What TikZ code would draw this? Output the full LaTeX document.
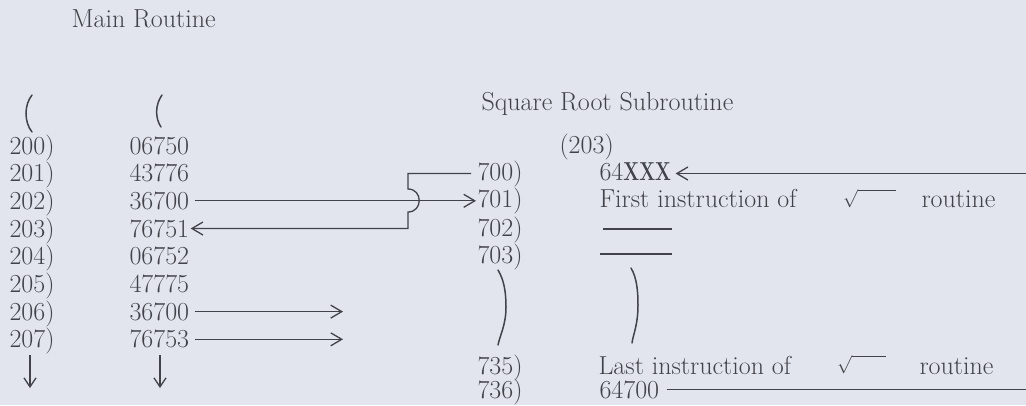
\RequirePackage{fix-cm}
\documentclass[tikz,border=0pt]{standalone}
\usetikzlibrary{arrows.meta}
\definecolor{paper}{RGB}{226,229,237}
\definecolor{ink}{RGB}{66,66,74}
\begin{document}
\begin{tikzpicture}[x=1pt,y=-1pt,
  txt/.style={anchor=base west, inner sep=1.5pt, outer sep=0pt, text=ink, font=\fontsize{26}{30}\selectfont},
  rad/.style={anchor=north west, inner sep=0pt, outer sep=0pt, text=ink, font=\fontsize{18}{20}\selectfont},
  ln/.style={draw=ink, line width=1.3pt},
  arr/.style={ln, -{Straight Barb[length=11pt,width=13pt,line width=1.3pt]}},
  darr/.style={ln, -{Straight Barb[length=9pt,width=12pt,line width=1.3pt]}},
  brk/.style={draw=ink, line width=1.5pt, line cap=round}]
\useasboundingbox (0,0) rectangle (1026,405);
\fill[paper] (0,0) rectangle (1026,405);

% titles
\node[txt] (title) at (70,27) {Main Routine};
\node[txt] (sqtitle) at (480,110) {Square Root Subroutine};
\node[txt] (ret) at (558,153) {(203)};

% main routine
\node[txt] (l200) at (8,154) {200)};   \node[txt] (v200) at (128,154) {06750};
\node[txt] (l201) at (8,181.7) {201)}; \node[txt] (v201) at (128,181.7) {43776};
\node[txt] (l202) at (8,209.4) {202)}; \node[txt] (v202) at (128,209.4) {36700};
\node[txt] (l203) at (8,237.1) {203)}; \node[txt] (v203) at (128,237.1) {76751};
\node[txt] (l204) at (8,264.8) {204)}; \node[txt] (v204) at (128,264.8) {06752};
\node[txt] (l205) at (8,292.5) {205)}; \node[txt] (v205) at (128,292.5) {47775};
\node[txt] (l206) at (8,320.2) {206)}; \node[txt] (v206) at (128,320.2) {36700};
\node[txt] (l207) at (8,347.9) {207)}; \node[txt] (v207) at (128,347.9) {76753};

% subroutine
\node[txt] (r700) at (476,180) {700)};   \node[txt] (vx0) at (598,180) {64\textbf{\scalebox{0.72}[1]{XXX}}};
\node[txt] (r701) at (476,207.5) {701)}; \node[txt] (vfirst) at (598,207.5) {First instruction of};
\node[rad] (sq1) at (843,189) {$\sqrt{\hspace{38pt}}$};
\node[txt] (rt1) at (920,207.5) {routine};
\node[txt] (r702) at (476,236) {702)};
\node[txt] (r703) at (476,263) {703)};
\node[txt] (r735) at (476,374) {735)};   \node[txt] (vlast) at (597,374) {Last instruction of};
\node[rad] (sq2) at (837,355) {$\sqrt{\hspace{34pt}}$};
\node[txt] (rt2) at (918,374) {routine};
\node[txt] (r736) at (476,398) {736)};   \node[txt] (v736) at (598,398) {64700};

% blank instruction lines
\coordinate (b1a) at (603,229); \coordinate (b1b) at (672,229);
\coordinate (b2a) at (600,254); \coordinate (b2b) at (672,254);
\draw[ln] (b1a) -- (b1b);
\draw[ln] (b2a) -- (b2b);

% continuation marks
\draw[brk] (32,95) .. controls (24,105) and (24,122) .. (32,132);
\draw[brk] (162,95) .. controls (155,105) and (155,118) .. (161,127);
\draw[brk] (498,270) .. controls (504,280) and (506,292) .. (506,307) .. controls (506,325) and (500,335) .. (498,345);
\draw[brk] (631,268) .. controls (637,278) and (638,292) .. (638,305) .. controls (638,325) and (633,335) .. (632,343);

% connectors
\coordinate (hk) at (408,0);
\coordinate (rx) at (343,0);
\coordinate (redge) at (1026,0);
\draw[arr, shorten <=4pt] (v202.east) -- (v202.east -| r701.west);
\draw[arr, shorten <=5pt] (r700.west) -- (hk |- r700.west) -- (408,189)
   .. controls (423,189) and (423,212) .. (408,212) -- (hk |- v203.east) -- (v203.east);
\draw[arr, shorten <=4pt] (v206.east) -- (rx |- v206.east);
\draw[arr, shorten <=4pt] (v207.east) -- (rx |- v207.east);
\draw[arr, shorten >=3pt] (redge |- r700.west) -- (vx0.east |- r700.west);
\draw[ln, shorten <=6pt] (v736.east) -- (redge |- v736.east);

\coordinate (d1a) at (30,355); \coordinate (d1b) at (30,388);
\coordinate (d2a) at (160,355); \coordinate (d2b) at (160,388);
\draw[darr] (d1a) -- (d1b);
\draw[darr] (d2a) -- (d2b);
\end{tikzpicture}
\end{document}
